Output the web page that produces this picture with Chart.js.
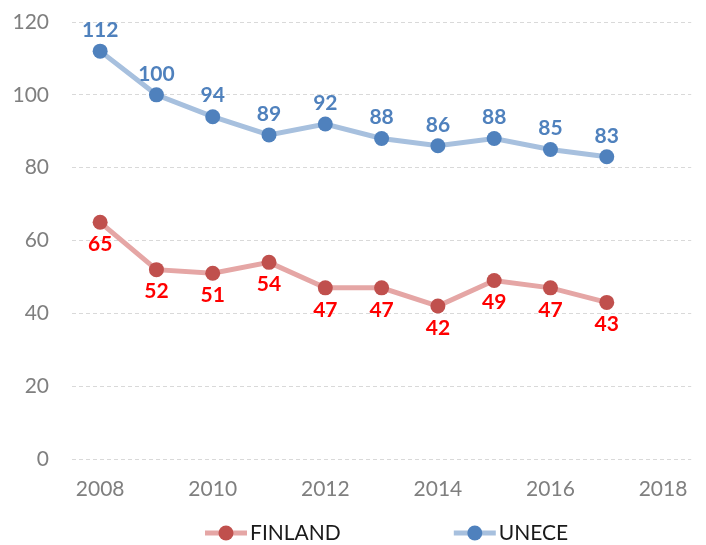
<!DOCTYPE html>
<html>
<head>
<meta charset="utf-8">
<script src="https://cdn.jsdelivr.net/npm/chart.js@4.4.0/dist/chart.umd.min.js"></script>
<style>
    html, body { margin: 0; padding: 0; background: #fff; }
</style>
</head>
<body>
<canvas id="myChart" width="706" height="545"></canvas>
<script>
const years = [2008, 2009, 2010, 2011, 2012, 2013, 2014, 2015, 2016, 2017];
const finland = [65, 52, 51, 54, 47, 47, 42, 49, 47, 43];
const unece = [112, 100, 94, 89, 92, 88, 86, 88, 85, 83];
const xTicks = [2008, 2010, 2012, 2014, 2016, 2018];
const yTicks = [0, 20, 40, 60, 80, 100, 120];

const FONT = 'Lato, "Open Sans", sans-serif';

function toPoints(values) {
    return values.map((v, i) => ({ x: years[i], y: v }));
}

// value labels above / below each point
const valueLabels = {
    id: 'valueLabels',
    afterDatasetsDraw(chart) {
        const ctx = chart.ctx;
        chart.data.datasets.forEach((ds, i) => {
            const meta = chart.getDatasetMeta(i);
            ctx.save();
            ctx.font = 'bold 21px ' + FONT;
            ctx.fillStyle = ds.labelColor;
            ctx.textAlign = 'center';
            ctx.textBaseline = 'middle';
            meta.data.forEach((pt, j) => {
                ctx.fillText(ds.data[j].y, pt.x, pt.y + ds.labelOffset);
            });
            ctx.restore();
        });
    }
};

// legend with line + dot markers, drawn under the x axis
const lineLegend = {
    id: 'lineLegend',
    afterDraw(chart) {
        const ctx = chart.ctx;
        const y = 533;
        let x = 205;
        ctx.save();
        ctx.font = '21px ' + FONT;
        ctx.textBaseline = 'middle';
        ctx.textAlign = 'left';
        chart.data.datasets.forEach(ds => {
            ctx.strokeStyle = ds.borderColor;
            ctx.lineWidth = 5;
            ctx.beginPath();
            ctx.moveTo(x, y);
            ctx.lineTo(x + 42, y);
            ctx.stroke();
            ctx.fillStyle = ds.pointBackgroundColor;
            ctx.beginPath();
            ctx.arc(x + 21, y, 7.5, 0, Math.PI * 2);
            ctx.fill();
            ctx.fillStyle = '#1a1a1a';
            ctx.fillText(ds.label, x + 45, y);
            x += 45 + ctx.measureText(ds.label).width + 113;
        });
        ctx.restore();
    }
};

const ctx = document.getElementById('myChart').getContext('2d');
const chart = new Chart(ctx, {
    type: 'line',
    data: {
        datasets: [{
            label: 'FINLAND',
            data: toPoints(finland),
            borderColor: '#e5a6a5',
            pointBackgroundColor: '#c0504d',
            pointBorderColor: '#c0504d',
            borderWidth: 5,
            pointRadius: 7.5,
            pointBorderWidth: 0,
            tension: 0,
            labelColor: '#ff0000',
            labelOffset: 22
        }, {
            label: 'UNECE',
            data: toPoints(unece),
            borderColor: '#a7c0de',
            pointBackgroundColor: '#4f81bd',
            pointBorderColor: '#4f81bd',
            borderWidth: 5,
            pointRadius: 7.5,
            pointBorderWidth: 0,
            tension: 0,
            labelColor: '#4f81bd',
            labelOffset: -21
        }]
    },
    options: {
        responsive: false,
        animation: false,
        devicePixelRatio: 1,
        layout: { padding: { top: 22, right: 13, left: 0, bottom: 0 } },
        plugins: {
            legend: { display: false },
            tooltip: { enabled: false }
        },
        scales: {
            x: {
                type: 'linear',
                min: 2007.5,
                max: 2018.5,
                afterBuildTicks: axis => { axis.ticks = xTicks.map(v => ({ value: v })); },
                afterFit: scale => { scale.height = 86; },
                grid: { display: false, drawTicks: false },
                border: { display: false },
                ticks: {
                    padding: 18,
                    color: '#7f7f7f',
                    font: { family: FONT, size: 21 },
                    maxRotation: 0,
                    callback: v => String(v)
                }
            },
            y: {
                min: 0,
                max: 120,
                afterBuildTicks: axis => { axis.ticks = yTicks.map(v => ({ value: v })); },
                afterFit: scale => { scale.width = 72; },
                grid: { color: '#d9d9d9', lineWidth: 1, drawTicks: true, tickLength: 23, tickColor: 'rgba(0,0,0,0)' },
                border: { display: false, dash: [4, 3] },
                ticks: {
                    padding: 0,
                    color: '#7f7f7f',
                    font: { family: FONT, size: 21 }
                }
            }
        }
    },
    plugins: [valueLabels, lineLegend]
});
</script>
</body>
</html>
